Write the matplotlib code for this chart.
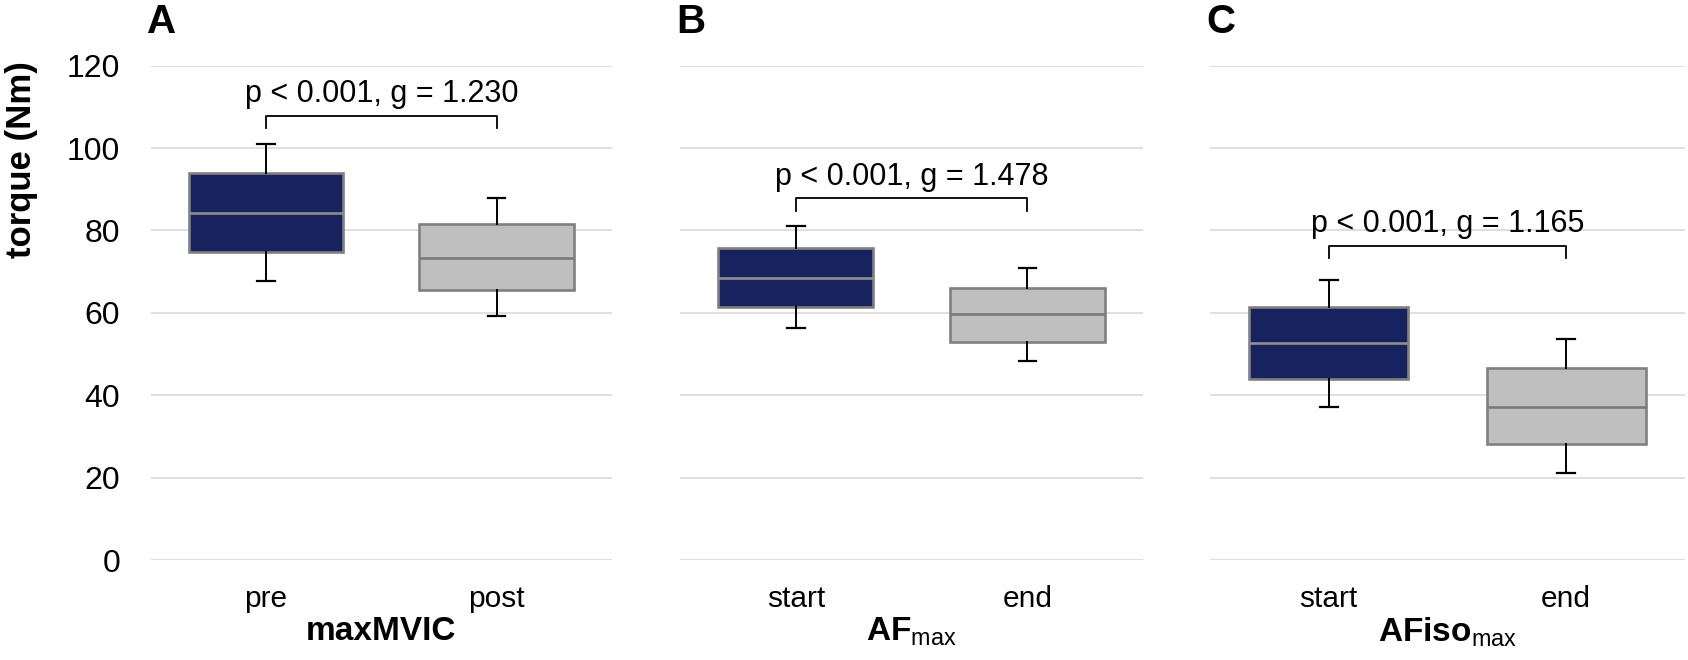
import matplotlib
matplotlib.use("Agg")
import matplotlib.pyplot as plt

plt.rcParams['font.family'] = ['Liberation Sans', 'DejaVu Sans']
plt.rcParams['mathtext.fontset'] = 'custom'
plt.rcParams['mathtext.rm'] = 'Liberation Sans'
plt.rcParams['mathtext.bf'] = 'Liberation Sans:bold'

# ---------------- data ----------------
panel_letters = ["A", "B", "C"]
panel_xlabels = [r"maxMVIC", r"$\mathbf{AF}_{\mathrm{max}}$", r"$\mathbf{AFiso}_{\mathrm{max}}$"]
categories = [["pre", "post"], ["start", "end"], ["start", "end"]]

# five-number summaries (whisker low, Q1, median, Q3, whisker high)
whislo = [[67.8, 59.3], [56.4, 48.2], [37.2, 21.1]]
q1     = [[74.7, 65.6], [61.5, 53.0], [44.0, 28.1]]
med    = [[84.2, 73.4], [68.4, 59.8], [52.8, 37.2]]
q3     = [[93.9, 81.5], [75.7, 66.1], [61.5, 46.6]]
whishi = [[101.0, 87.8], [81.1, 71.0], [68.0, 53.6]]

annotations = ["p < 0.001, g = 1.230", "p < 0.001, g = 1.478", "p < 0.001, g = 1.165"]
bracket_y = [107.9, 87.8, 76.3]

y_ticks = [0, 20, 40, 60, 80, 100, 120]
y_label = "torque (Nm)"

# ---------------- style ----------------
W, H = 1688, 660
fig = plt.figure(figsize=(W / 100, H / 100), dpi=100)

navy = "#17235f"
light = "#bfbfbf"
edge = "#808080"
grid_c = "#d9d9d9"

px_left = [150.7, 680.0, 1210.0]
px_right = [612.0, 1143.3, 1685.0]
px_top, px_bottom = 65.7, 560.0

for i in range(3):
    ax = fig.add_axes([px_left[i] / W, (H - px_bottom) / H,
                       (px_right[i] - px_left[i]) / W, (px_bottom - px_top) / H])
    stats = []
    for j in range(2):
        stats.append(dict(whislo=whislo[i][j], q1=q1[i][j], med=med[i][j],
                          q3=q3[i][j], whishi=whishi[i][j], fliers=[]))
    bp = ax.bxp(stats, positions=[0, 1], widths=0.67, capwidths=0.075,
                patch_artist=True, showfliers=False, manage_ticks=False,
                boxprops=dict(edgecolor=edge, linewidth=1.9),
                whiskerprops=dict(color="black", linewidth=1.4),
                capprops=dict(color="black", linewidth=1.6),
                medianprops=dict(linewidth=1.9),
                zorder=3)
    for j, (patch, mline) in enumerate(zip(bp['boxes'], bp['medians'])):
        patch.set_facecolor(navy if j == 0 else light)
        mline.set_color("#8e8e8e" if j == 0 else "#7a7a7a")
        mline.set_zorder(4)

    ax.set_xlim(-0.5, 1.5)
    ax.set_ylim(0, 120)
    ax.set_yticks(y_ticks)
    ax.grid(axis="y", color=grid_c, linewidth=1.2, zorder=0)
    ax.set_axisbelow(True)
    for s in ax.spines.values():
        s.set_visible(False)
    ax.set_xticks([0, 1])
    ax.set_xticklabels(categories[i], fontsize=21.5)
    ax.tick_params(axis="x", length=0, pad=18)
    ax.tick_params(axis="y", length=0, pad=22, labelsize=23)
    if i > 0:
        ax.tick_params(axis="y", labelleft=False)
    ax.set_xlabel(panel_xlabels[i], fontsize=24, fontweight="bold", labelpad=2)

    # significance bracket
    by = bracket_y[i]
    ax.plot([0, 0, 1, 1], [by - 3.0, by, by, by - 3.0], color="black",
            linewidth=1.3, zorder=5, clip_on=False)
    ax.text(0.5, by + 3.3, annotations[i], ha="center", va="baseline",
            fontsize=22, zorder=6)

    fig.text(px_left[i] / W - 0.002, (H - 33) / H, panel_letters[i],
             fontsize=29, fontweight="bold", ha="left", va="baseline")

fig.text(21.5 / W, (H - 160) / H, y_label, rotation=90, ha="center", va="center",
         fontsize=25, fontweight="bold")

fig.savefig("out.png", dpi=100, facecolor="white")
